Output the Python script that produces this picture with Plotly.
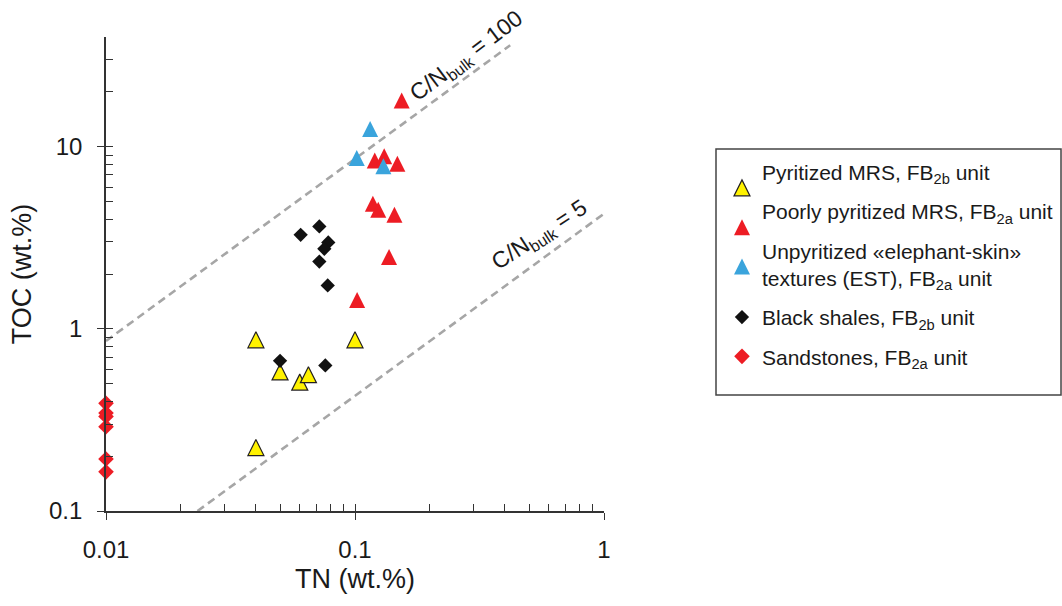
import plotly.graph_objects as go

# ---- Sample data (TN and TOC in wt.%) ----
# Pyritized MRS, FB2b unit
pyr_tn = [0.040, 0.100, 0.050, 0.060, 0.065, 0.040]
pyr_toc = [0.87, 0.87, 0.58, 0.51, 0.56, 0.223]

# Poorly pyritized MRS, FB2a unit
poor_tn = [0.154, 0.120, 0.131, 0.148, 0.118, 0.124, 0.144, 0.137, 0.102]
poor_toc = [17.9, 8.4, 8.85, 8.07, 4.86, 4.51, 4.23, 2.48, 1.44]

# Unpyritized elephant-skin textures (EST), FB2a unit
est_tn = [0.115, 0.1016, 0.130]
est_toc = [12.5, 8.67, 7.8]

# Black shales, FB2b unit
bs_tn = [0.0605, 0.0719, 0.0781, 0.0753, 0.0719, 0.0777, 0.050, 0.076]
bs_toc = [3.28, 3.65, 2.98, 2.75, 2.34, 1.73, 0.667, 0.63]

# Sandstones, FB2a unit
ss_tn = [0.01, 0.01, 0.01, 0.01, 0.01, 0.01]
ss_toc = [0.39, 0.345, 0.33, 0.29, 0.193, 0.164]

# Reference lines of constant molar C/N ratio
cn_ratios = [100, 5]
cn_tn_start = [0.01, 0.0233]
cn_tn_end = [0.42, 1.0]
C_OVER_N_MASS = 12.011 / 14.007

# Axis ticks
x_major = [0.01, 0.1, 1]
x_major_text = ["0.01", "0.1", "1"]
x_all = [0.01, 0.02, 0.03, 0.04, 0.05, 0.06, 0.07, 0.08, 0.09,
         0.1, 0.2, 0.3, 0.4, 0.5, 0.6, 0.7, 0.8, 0.9, 1]
y_major = [0.1, 1, 10]
y_major_text = ["0.1", "1", "10"]
y_all = [0.1, 0.2, 0.3, 0.4, 0.5, 0.6, 0.7, 0.8, 0.9,
         1, 2, 3, 4, 5, 6, 7, 8, 9, 10, 20, 30, 40]

FONT = "Liberation Sans, Arial, Helvetica, sans-serif"
TEXT_COLOR = "#1a1a1a"
AXIS_COLOR = "#333333"
YELLOW = "#FFF200"
RED = "#ED1C24"
BLUE = "#3AA4DC"
BLACK = "#111111"
TRI = 16   # triangle marker size (px)
DIA = 11   # diamond marker size (px)


def triangle(color, line_color=None, line_width=0):
    # arrow-down rotated by 180 deg and pulled back by half its size gives an
    # upward triangle, centred on the point, as tall as it is wide
    return dict(symbol="arrow-down", angle=180, standoff=TRI / 2, size=TRI,
                color=color, line=dict(color=line_color or color, width=line_width))


fig = go.Figure()

# dashed C/N lines (drawn first so markers sit on top)
for k, t0, t1 in zip(cn_ratios, cn_tn_start, cn_tn_end):
    fig.add_trace(go.Scatter(
        x=[t0, t1], y=[k * C_OVER_N_MASS * t0, k * C_OVER_N_MASS * t1],
        mode="lines", line=dict(color="#A6A6A6", width=2.6, dash="8px,5px"),
        showlegend=False, hoverinfo="skip", cliponaxis=False))

fig.add_trace(go.Scatter(
    x=pyr_tn, y=pyr_toc, mode="markers", name="Pyritized MRS, FB<sub>2b</sub> unit",
    legendgroup="a", marker=triangle(YELLOW, "#231F20", 1.2), cliponaxis=False))
fig.add_trace(go.Scatter(
    x=poor_tn, y=poor_toc, mode="markers", name="Poorly pyritized MRS, FB<sub>2a</sub> unit",
    legendgroup="b", marker=triangle(RED), cliponaxis=False))
fig.add_trace(go.Scatter(
    x=est_tn, y=est_toc, mode="markers",
    name="Unpyritized «elephant-skin»<br>textures (EST), FB<sub>2a</sub> unit",
    legendgroup="c", marker=triangle(BLUE), cliponaxis=False))
fig.add_trace(go.Scatter(
    x=bs_tn, y=bs_toc, mode="markers", name="Black shales, FB<sub>2b</sub> unit",
    legendgroup="d", marker=dict(symbol="diamond", size=DIA, color=BLACK), cliponaxis=False))
fig.add_trace(go.Scatter(
    x=ss_tn, y=ss_toc, mode="markers", name="Sandstones, FB<sub>2a</sub> unit",
    legendgroup="e", marker=dict(symbol="diamond", size=DIA + 1, color=RED), cliponaxis=False))

# empty trace so the overlay axes (inside tick marks) get drawn
fig.add_trace(go.Scatter(x=[], y=[], xaxis="x2", yaxis="y2", showlegend=False))

tick_font = dict(family=FONT, size=24, color=TEXT_COLOR)
title_font = dict(family=FONT, size=27, color=TEXT_COLOR)

fig.update_layout(
    width=1062, height=606,
    margin=dict(l=106, r=458, t=37, b=95, autoexpand=False),
    paper_bgcolor="white", plot_bgcolor="white",
    font=dict(family=FONT, color=TEXT_COLOR),
    xaxis=dict(
        type="log", range=[-2, 0], showgrid=False, zeroline=False,
        showline=True, linecolor=AXIS_COLOR, linewidth=1.6,
        tickmode="array", tickvals=x_major, ticktext=x_major_text,
        ticks="outside", ticklen=7, tickwidth=1.4, tickcolor=AXIS_COLOR,
        tickfont=tick_font, ticklabelstandoff=9, automargin=False,
        title=dict(text="TN (wt.%)", font=title_font, standoff=8),
    ),
    yaxis=dict(
        type="log", range=[-1, 1.60206], showgrid=False, zeroline=False,
        showline=True, linecolor=AXIS_COLOR, linewidth=1.6,
        tickmode="array", tickvals=y_major, ticktext=y_major_text,
        ticks="outside", ticklen=7, tickwidth=1.4, tickcolor=AXIS_COLOR,
        tickfont=tick_font, ticklabelstandoff=10, automargin=False,
        title=dict(text="TOC (wt.%)", font=title_font, standoff=10),
    ),
    xaxis2=dict(
        type="log", range=[-2, 0], overlaying="x", anchor="y", side="bottom",
        showgrid=False, zeroline=False, showline=False, showticklabels=False,
        tickmode="array", tickvals=x_all, ticks="inside", ticklen=7,
        tickwidth=1.4, tickcolor=AXIS_COLOR,
    ),
    yaxis2=dict(
        type="log", range=[-1, 1.60206], overlaying="y", anchor="x", side="left",
        showgrid=False, zeroline=False, showline=False, showticklabels=False,
        tickmode="array", tickvals=y_all, ticks="inside", ticklen=7,
        tickwidth=1.4, tickcolor=AXIS_COLOR,
    ),
    legend=dict(
        x=1.2369, y=0.758, xanchor="left", yanchor="top",
        font=dict(family=FONT, size=21, color=TEXT_COLOR),
        bgcolor="rgba(0,0,0,0)", borderwidth=0,
        tracegroupgap=9, valign="top", itemwidth=30,
    ),
    shapes=[dict(
        type="rect", xref="paper", yref="paper",
        x0=1.2249, x1=1.9177, y0=0.2447, y1=0.7637,
        line=dict(color="#444444", width=1.5), fillcolor="rgba(0,0,0,0)",
    )],
    annotations=[
        dict(text="C/N<sub>bulk</sub> = 100", x=-0.550, y=1.4945, xref="x", yref="y",
             showarrow=False, textangle=-37, font=dict(family=FONT, size=23, color=TEXT_COLOR)),
        dict(text="C/N<sub>bulk</sub> = 5", x=-0.257, y=0.511, xref="x", yref="y",
             showarrow=False, textangle=-33, font=dict(family=FONT, size=23, color=TEXT_COLOR)),
    ],
)

fig.write_html("out.html")
